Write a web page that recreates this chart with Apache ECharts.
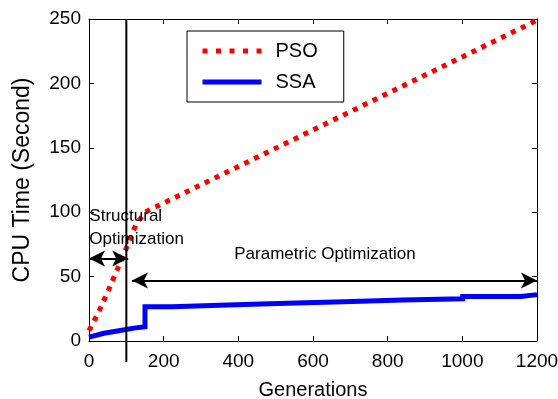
<!DOCTYPE html>
<html><head><meta charset="utf-8">
<script src="https://cdn.jsdelivr.net/npm/echarts@6/dist/echarts.min.js"></script>
<style>html,body{margin:0;padding:0;background:#fff}#c{width:558px;height:399px}</style>
</head><body><div id="c"></div>
<script>
// ---- data ----
const psoX = [0, 25, 50, 75, 100, 125, 150, 1200];
const psoY = [8, 22, 38, 55, 72, 90, 100, 249];
const ssaX = [0, 40, 80, 120, 150, 150, 222, 222, 371, 371, 529, 529, 682, 682, 840, 840, 1001, 1001, 1157, 1157, 1200];
const ssaY = [3, 6, 8, 10, 11, 26.6, 26.6, 28, 28, 29.3, 29.3, 30.5, 30.5, 31.8, 31.8, 32.8, 32.8, 34.5, 34.5, 36, 36];
const xTicks = [0, 200, 400, 600, 800, 1000, 1200];
const yTicks = [0, 50, 100, 150, 200, 250];
const seriesNames = ['PSO', 'SSA'];
const divideX = 100;          // structural / parametric boundary
const structArrow = [0, 105, 64];     // x1, x2, y
const paramArrow = [115, 1200, 47];   // x1, x2, y

const FONT = "'Liberation Sans', Arial, Helvetica, sans-serif";
const chart = echarts.init(document.getElementById('c'), null, {renderer: 'canvas'});

function axisCommon() {
  return {
    axisLine: {show: true, onZero: false, lineStyle: {color: '#000', width: 1}},
    axisTick: {show: true, inside: true, length: 5, lineStyle: {color: '#000', width: 1}},
    splitLine: {show: false}
  };
}
const plain = v => String(v);

const option = {
  animation: false,
  backgroundColor: '#fff',
  grid: {left: 89, right: 21, top: 19, bottom: 58, containLabel: false, outerBoundsMode: 'none'},
  legend: {
    orient: 'vertical', left: 187, top: 31,
    itemWidth: 59, itemHeight: 14, itemGap: 11,
    padding: [10, 26, 10, 13],
    borderColor: '#000', borderWidth: 1, backgroundColor: '#fff',
    textStyle: {fontFamily: FONT, fontSize: 20, color: '#000', padding: [0, 0, 0, 9]},
    itemStyle: {color: 'rgba(0,0,0,0)', borderWidth: 0, opacity: 0},
    data: [
      {name: seriesNames[0], lineStyle: {color: '#ff0000', width: 5, type: [5, 8.5], cap: 'butt'}},
      {name: seriesNames[1], lineStyle: {color: '#0000ff', width: 5, type: 'solid', cap: 'butt'}}
    ]
  },
  xAxis: [
    Object.assign({
      type: 'value', min: xTicks[0], max: xTicks[xTicks.length - 1], interval: xTicks[1] - xTicks[0],
      position: 'bottom',
      axisLabel: {fontFamily: FONT, fontSize: 19, color: '#000', margin: 11, formatter: plain},
      name: 'Generations', nameLocation: 'middle', nameGap: 39,
      nameTextStyle: {fontFamily: FONT, fontSize: 20, color: '#000'}
    }, axisCommon()),
    Object.assign({
      type: 'value', min: xTicks[0], max: xTicks[xTicks.length - 1], interval: xTicks[1] - xTicks[0],
      position: 'top', axisLabel: {show: false}
    }, axisCommon())
  ],
  yAxis: [
    Object.assign({
      type: 'value', min: yTicks[0], max: yTicks[yTicks.length - 1], interval: yTicks[1] - yTicks[0],
      position: 'left',
      axisLabel: {fontFamily: FONT, fontSize: 19, color: '#000', margin: 8, formatter: plain},
      name: 'CPU Time (Second)', nameLocation: 'middle', nameGap: 55,
      nameTextStyle: {fontFamily: FONT, fontSize: 23, color: '#000'}
    }, axisCommon()),
    Object.assign({
      type: 'value', min: yTicks[0], max: yTicks[yTicks.length - 1], interval: yTicks[1] - yTicks[0],
      position: 'right', axisLabel: {show: false}
    }, axisCommon())
  ],
  series: [
    {
      name: seriesNames[0], type: 'line', symbol: 'none', z: 3,
      data: psoX.map((x, i) => [x, psoY[i]]),
      lineStyle: {color: '#ff0000', width: 5, type: [5, 6], cap: 'butt'},
      itemStyle: {color: '#ff0000'}
    },
    {
      name: seriesNames[1], type: 'line', symbol: 'none', z: 4,
      data: ssaX.map((x, i) => [x, ssaY[i]]),
      lineStyle: {color: '#0000ff', width: 5, join: 'miter'},
      itemStyle: {color: '#0000ff'},
      markLine: {
        silent: true, animation: false,
        symbol: ['arrow', 'arrow'], symbolSize: [12, 16],
        lineStyle: {color: '#000', width: 2, type: 'solid'},
        itemStyle: {color: '#000'},
        label: {show: false},
        emphasis: {disabled: true},
        data: [
          [{coord: [structArrow[0], structArrow[2]]}, {coord: [structArrow[1], structArrow[2]]}],
          [{coord: [paramArrow[0], paramArrow[2]]}, {coord: [paramArrow[1], paramArrow[2]]}]
        ]
      }
    }
  ]
};
chart.setOption(option);

const px = (x, y) => chart.convertToPixel({xAxisIndex: 0, yAxisIndex: 0}, [x, y]);
const vTop = px(divideX, yTicks[yTicks.length - 1]);
const vBot = px(divideX, yTicks[0]);
const s1 = px(1, 97), s2 = px(1, 79), pp = px(632, 67);
chart.setOption({
  graphic: [
    {type: 'line', z: 10, shape: {x1: vTop[0], y1: vTop[1], x2: vBot[0], y2: vBot[1] + 21},
      style: {stroke: '#000', lineWidth: 2}},
    {type: 'text', z: 10, x: s1[0], y: s1[1],
      style: {text: 'Structural', fontFamily: FONT, fontSize: 17, fill: '#000', textAlign: 'left', textVerticalAlign: 'middle'}},
    {type: 'text', z: 10, x: s2[0], y: s2[1],
      style: {text: 'Optimization', fontFamily: FONT, fontSize: 17, fill: '#000', textAlign: 'left', textVerticalAlign: 'middle'}},
    {type: 'text', z: 10, x: pp[0], y: pp[1],
      style: {text: 'Parametric Optimization', fontFamily: FONT, fontSize: 17, fill: '#000', textAlign: 'center', textVerticalAlign: 'middle'}}
  ]
});
</script></body></html>
